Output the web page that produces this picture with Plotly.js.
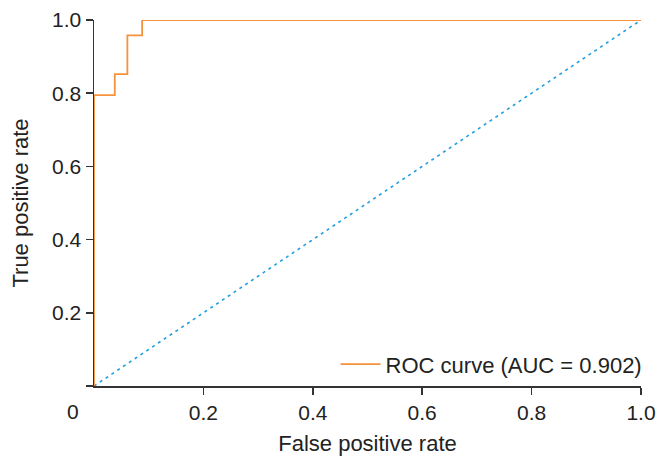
<!DOCTYPE html>
<html>
<head>
<meta charset="utf-8">
<script src="https://cdn.plot.ly/plotly-3.0.1.min.js"></script>
<style>html,body{margin:0;padding:0;background:#fff;}#chart{width:669px;height:469px;}</style>
</head>
<body>
<div id="chart"></div>
<script>
const fpr = [0, 0, 0.038, 0.038, 0.061, 0.061, 0.088, 0.088, 1.0];
const tpr = [0, 0.795, 0.795, 0.852, 0.852, 0.958, 0.958, 1.0, 1.0];
const chanceX = [0, 1];
const chanceY = [0, 1];
const xTicks = [0.2, 0.4, 0.6, 0.8, 1.0];
const xTickText = ["0.2", "0.4", "0.6", "0.8", "1.0"];
const yTicks = [0, 0.2, 0.4, 0.6, 0.8, 1.0];
const yTickText = ["", "0.2", "0.4", "0.6", "0.8", "1.0"];
const originLabel = "0";
const legendLabel = "ROC curve (AUC = 0.902)";

const font = "Liberation Sans, Arial, sans-serif";
const traces = [
  {x: chanceX, y: chanceY, mode: "lines", showlegend: false,
   line: {color: "#1f9fe0", width: 1.6, dash: "3px,4px"}, cliponaxis: false, hoverinfo: "skip"},
  {x: fpr, y: tpr, mode: "lines", name: legendLabel,
   line: {color: "#f5923c", width: 1.8}, cliponaxis: false}
];
const layout = {
  width: 669, height: 469,
  margin: {l: 94, r: 28, t: 20, b: 83},
  paper_bgcolor: "#fff", plot_bgcolor: "#fff",
  font: {family: font, size: 21, color: "#222"},
  showlegend: true,
  legend: {x: 1.012, xanchor: "right", y: 0.002, yanchor: "bottom", bgcolor: "rgba(0,0,0,0)",
           font: {size: 22, color: "#222"}, itemwidth: 40},
  xaxis: {range: [0, 1], tickvals: xTicks, ticktext: xTickText, ticks: "outside", ticklen: 7,
          tickwidth: 1.5, tickcolor: "#333", showline: true, linecolor: "#333", linewidth: 1.5,
          showgrid: false, zeroline: false, fixedrange: true,
          title: {text: "False positive rate", font: {size: 22, color: "#222"}, standoff: 13},
          tickfont: {size: 21, color: "#222"}},
  yaxis: {range: [0, 1], tickvals: yTicks, ticktext: yTickText, ticks: "outside", ticklen: 7,
          tickwidth: 1.5, tickcolor: "#333", showline: true, linecolor: "#333", linewidth: 1.5,
          showgrid: false, zeroline: false, fixedrange: true,
          title: {text: "True positive rate", font: {size: 22, color: "#222"}, standoff: 17},
          tickfont: {size: 21, color: "#222"}},
  annotations: [{xref: "x", yref: "y", x: 0, y: 0, text: originLabel, showarrow: false,
                 xanchor: "center", yanchor: "top", xshift: -21, yshift: -12,
                 font: {size: 21, color: "#222"}}]
};
Plotly.newPlot("chart", traces, layout, {displayModeBar: false, staticPlot: true});
</script>
</body>
</html>
